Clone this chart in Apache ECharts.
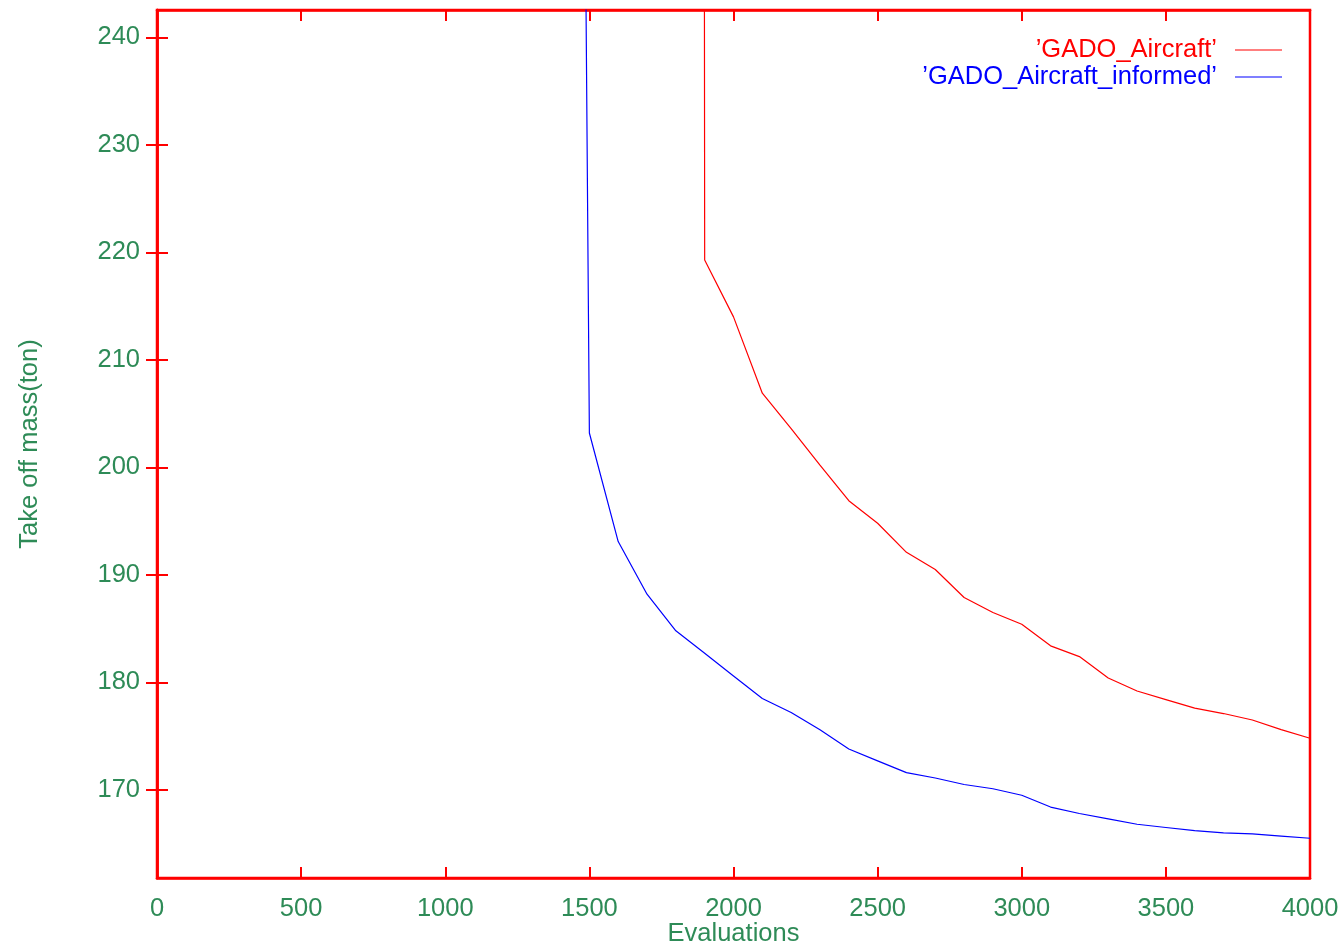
<!DOCTYPE html>
<html>
<head>
<meta charset="utf-8">
<script src="https://cdn.jsdelivr.net/npm/echarts@6/dist/echarts.min.js"></script>
<style>html,body{margin:0;padding:0;background:#fff}#c{width:1344px;height:946px}</style>
</head>
<body>
<div id="c"></div>
<script>
// Red series: 'GADO_Aircraft'
const redEvals = [1800, 1900, 2000, 2100, 2200, 2300, 2400, 2500, 2600, 2700, 2800, 2900, 3000, 3100, 3200, 3300, 3400, 3500, 3600, 3700, 3800, 3900, 4000];
const redMass  = [3000, 219.3, 214.0, 206.9, 203.6, 200.2, 196.9, 194.8, 192.1, 190.5, 187.9, 186.5, 185.4, 183.4, 182.4, 180.4, 179.2, 178.4, 177.6, 177.1, 176.5, 175.6, 174.8];
// Blue series: 'GADO_Aircraft_informed'
const blueEvals = [1400, 1500, 1600, 1700, 1800, 1900, 2000, 2100, 2200, 2300, 2400, 2500, 2600, 2700, 2800, 2900, 3000, 3100, 3200, 3300, 3400, 3500, 3600, 3700, 3800, 3900, 4000];
const blueMass  = [545, 203.2, 193.1, 188.2, 184.8, 182.7, 180.6, 178.5, 177.2, 175.6, 173.8, 172.7, 171.6, 171.1, 170.5, 170.1, 169.5, 168.4, 167.8, 167.3, 166.8, 166.5, 166.2, 166.0, 165.9, 165.7, 165.5];
const yTicks = [170, 180, 190, 200, 210, 220, 230, 240];
const seriesNames = ['\u2019GADO_Aircraft\u2019', '\u2019GADO_Aircraft_informed\u2019'];

const green = '#2e8b57';
const font = 'Liberation Sans, Arial, sans-serif';
const pair = (xs, ys) => xs.map((x, i) => [x, ys[i]]);

const chart = echarts.init(document.getElementById('c'), null, {renderer: 'canvas'});
const axisLineStyle = {show: true, lineStyle: {color: '#ff0000', width: 2.5}};
const tickStyle = {show: true, inside: true, length: 11, lineStyle: {color: '#ff0000', width: 2}};
chart.setOption({
  animation: false,
  backgroundColor: '#ffffff',
  grid: {left: 157, right: 34, top: 10, bottom: 68, show: true, borderColor: '#ff0000', borderWidth: 2.5,
         containLabel: false, outerBoundsMode: 'none'},
  xAxis: [{
    type: 'value', min: 0, max: 4000, interval: 500, position: 'bottom',
    name: 'Evaluations', nameLocation: 'middle', nameGap: 43, nameMoveOverlap: false,
    nameTextStyle: {color: green, fontSize: 25.5, fontFamily: font},
    axisLine: axisLineStyle, axisTick: tickStyle,
    axisLabel: {color: green, fontSize: 25.5, fontFamily: font, margin: 18, formatter: v => String(v)},
    splitLine: {show: false}
  }, {
    type: 'value', min: 0, max: 4000, interval: 500, position: 'top',
    axisLine: axisLineStyle, axisTick: tickStyle, axisLabel: {show: false}, splitLine: {show: false}
  }],
  yAxis: [{
    type: 'value', min: 161.8, max: 242.55, position: 'left',
    name: 'Take off mass(ton)', nameLocation: 'middle', nameGap: 114, nameRotate: 90, nameMoveOverlap: false,
    nameTextStyle: {color: green, fontSize: 25.5, fontFamily: font},
    axisLine: axisLineStyle,
    axisTick: Object.assign({}, tickStyle, {customValues: yTicks}),
    axisLabel: {color: green, fontSize: 25.5, fontFamily: font, margin: 17, customValues: yTicks, formatter: v => String(v)},
    splitLine: {show: false}
  }, {
    type: 'value', min: 161.8, max: 242.55, position: 'right',
    axisLine: axisLineStyle,
    axisTick: Object.assign({}, tickStyle, {customValues: yTicks}),
    axisLabel: {show: false, customValues: yTicks}, splitLine: {show: false}
  }],
  legend: [{
    data: [seriesNames[0]], right: 62, top: 37, align: 'right', padding: 0,
    icon: 'rect', itemWidth: 47, itemHeight: 1,
    textStyle: {color: '#ff0000', fontSize: 25.5, fontFamily: font, padding: [0, 13, 0, 0]},
    selectedMode: false
  }, {
    data: [seriesNames[1]], right: 62, top: 64, align: 'right', padding: 0,
    icon: 'rect', itemWidth: 47, itemHeight: 1,
    textStyle: {color: '#0000ff', fontSize: 25.5, fontFamily: font, padding: [0, 13, 0, 0]},
    selectedMode: false
  }],
  series: [{
    name: seriesNames[0], type: 'line', data: pair(redEvals, redMass),
    showSymbol: false, symbol: 'none', clip: true,
    lineStyle: {color: '#ff0000', width: 1.2}, itemStyle: {color: '#ff0000'}
  }, {
    name: seriesNames[1], type: 'line', data: pair(blueEvals, blueMass),
    showSymbol: false, symbol: 'none', clip: true,
    lineStyle: {color: '#0000ff', width: 1.2}, itemStyle: {color: '#0000ff'}
  }]
});
</script>
</body>
</html>
